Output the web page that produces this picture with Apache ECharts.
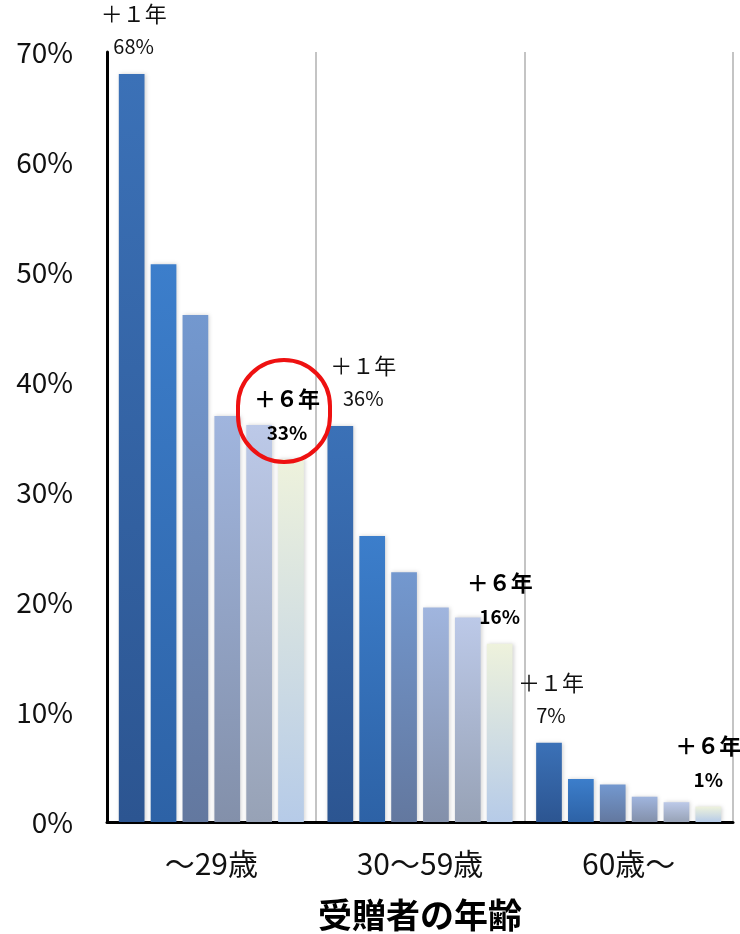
<!DOCTYPE html>
<html>
<head>
<meta charset="utf-8">
<script src="https://cdn.jsdelivr.net/npm/echarts@6/dist/echarts.min.js"></script>
<style>
html,body{margin:0;padding:0;background:#fff;}
#chart{width:740px;height:934px;}
</style>
</head>
<body>
<div id="chart"></div>
<script>
// ---- data ----
const categories = ['～29歳', '30～59歳', '60歳～'];
const seriesNames = ['＋１年', '＋２年', '＋３年', '＋４年', '＋５年', '＋６年'];
const plus1 = [68, 36, 7.2];
const plus2 = [50.7, 26, 3.9];
const plus3 = [46.1, 22.7, 3.4];
const plus4 = [36.9, 19.5, 2.3];
const plus5 = [36.1, 18.6, 1.8];
const plus6 = [33, 16.2, 1.4];
const yTicks = [0, 10, 20, 30, 40, 50, 60, 70];
const xAxisTitle = '受贈者の年齢';

const values = [plus1, plus2, plus3, plus4, plus5, plus6];
const gradients = [
  ['#3b71b7', '#2c5591'],
  ['#3c7ecb', '#2d62a6'],
  ['#7398cf', '#63789f'],
  ['#a0b5de', '#8390aa'],
  ['#bcc9e8', '#97a2b6'],
  ['#eef2dc', '#b6cbe8']
];
const FONT = '"Noto Sans CJK JP", "Noto Sans", sans-serif';

function grad(c) {
  return new echarts.graphic.LinearGradient(0, 0, 0, 1, [
    { offset: 0, color: c[0] },
    { offset: 1, color: c[1] }
  ]);
}

function labelFor(si, ci, v) {
  const name = seriesNames[si];
  const pct = Math.round(v) + '%';
  if (si === 0) {
    return {
      show: true, position: 'top', distance: 11,
      offset: ci === 1 ? [23, 0] : [2, 0],
      formatter: '{a|' + name + '}\n{b|' + pct + '}',
      rich: {
        a: { fontSize: 22, fontFamily: FONT, color: '#111', lineHeight: 33, align: 'center' },
        b: { fontSize: 20, fontFamily: FONT, color: '#111', lineHeight: 33, align: 'center' }
      }
    };
  }
  if (si === 5) {
    const base = {
      show: true, position: 'top', distance: 10,
      offset: [0, 0],
      formatter: '{a|' + name + '}\n{b|' + pct + '}',
      rich: {
        a: { fontSize: 22, fontWeight: 'bold', fontFamily: FONT, color: '#000', lineHeight: 34, align: 'center' },
        b: { fontSize: 19, fontWeight: 'bold', fontFamily: FONT, color: '#000', lineHeight: 34, align: 'center' }
      }
    };
    if (ci === 0) {
      base.borderColor = '#ee1111';
      base.borderWidth = 4;
      base.borderRadius = 50;
      base.padding = [22, 10, 12, 16];
      base.distance = -3;
      base.offset = [-7, 0];
    }
    return base;
  }
  return { show: false };
}

const series = values.map((arr, si) => ({
  name: seriesNames[si],
  type: 'bar',
  barWidth: 25.7,
  barGap: '24%',
  data: arr.map((v, ci) => ({ value: v, label: labelFor(si, ci, v) })),
  itemStyle: {
    color: grad(gradients[si]),
    shadowColor: 'rgba(0,0,0,0.18)',
    shadowBlur: 4,
    shadowOffsetX: 1
  },
  z: 2
}));

const chart = echarts.init(document.getElementById('chart'), null, { renderer: 'canvas', width: 740, height: 934 });
chart.setOption({
  animation: false,
  backgroundColor: '#fff',
  grid: { left: 107, width: 626, top: 52, height: 770, containLabel: false, outerBoundsMode: 'none' },
  xAxis: {
    type: 'category',
    data: categories,
    name: xAxisTitle,
    nameLocation: 'middle',
    nameGap: 76,
    nameTextStyle: { fontSize: 34, fontWeight: 'bold', fontFamily: FONT, color: '#000' },
    axisLine: { show: true, lineStyle: { color: '#000', width: 3 } },
    axisTick: { show: false },
    axisLabel: { fontSize: 30, fontFamily: FONT, color: '#111', margin: 27, interval: 0 },
    splitLine: { show: true, interval: 0, lineStyle: { color: '#c4c4c4', width: 2 } }
  },
  yAxis: {
    type: 'value',
    min: yTicks[0],
    max: yTicks[yTicks.length - 1],
    interval: 10,
    axisLine: { show: true, lineStyle: { color: '#000', width: 3 } },
    axisTick: { show: false },
    splitLine: { show: false },
    axisLabel: { formatter: '{value}%', fontSize: 28, fontFamily: FONT, color: '#111', margin: 34 }
  },
  series: series
});
</script>
</body>
</html>
